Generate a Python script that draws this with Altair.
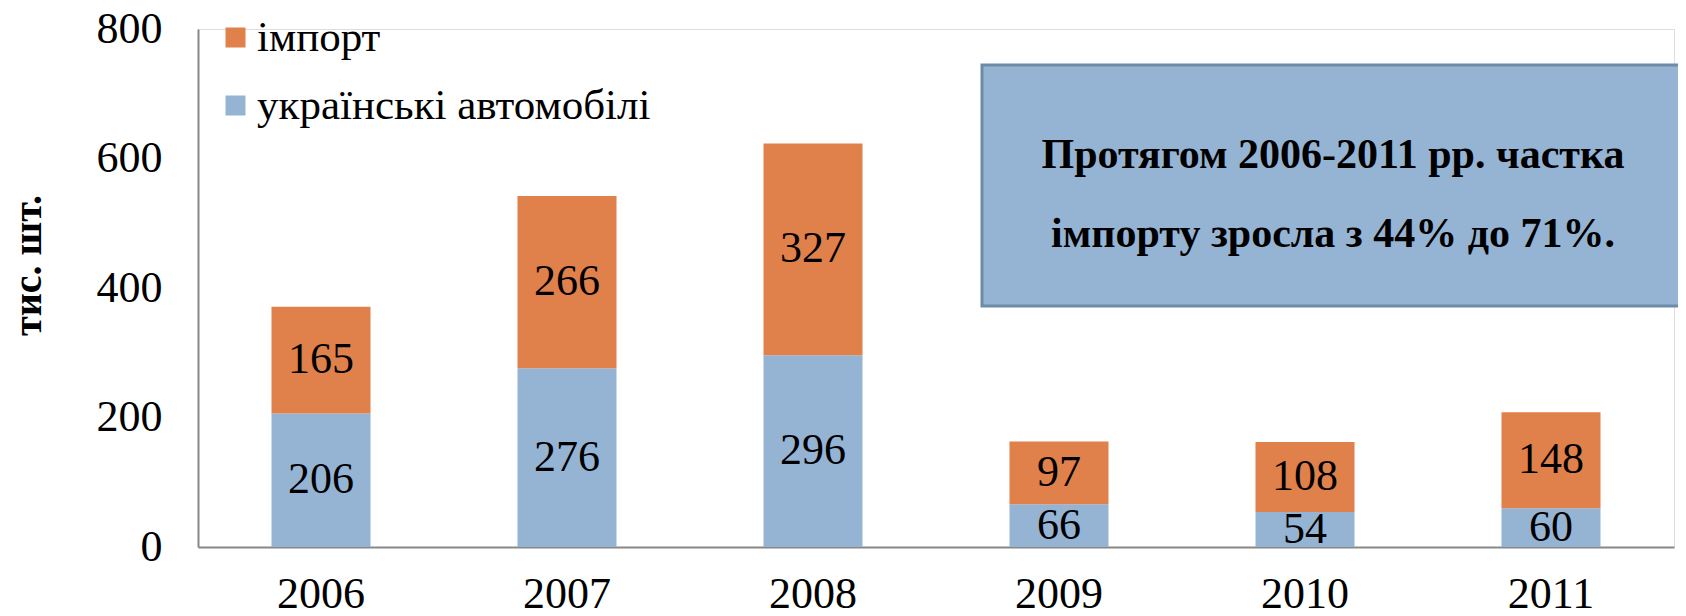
import altair as alt
import pandas as pd

years = ["2006", "2007", "2008", "2009", "2010", "2011"]
ukr = [206, 276, 296, 66, 54, 60]
imp = [165, 266, 327, 97, 108, 148]
series = ["імпорт", "українські автомобілі"]
colors = ["#E0804A", "#95B4D3"]
note_lines = ["Протягом 2006-2011 рр. частка", "імпорту зросла з 44% до 71%."]

rows = []
for y, u, i in zip(years, ukr, imp):
    rows.append({"year": y, "series": series[1], "value": u, "ord": 0})
    rows.append({"year": y, "series": series[0], "value": i, "ord": 1})
df = pd.DataFrame(rows)

FONT = "Liberation Serif"
W, H = 1476, 518

base = alt.Chart(df)

bars = base.mark_bar(size=99).encode(
    x=alt.X("year:N", sort=years,
            scale=alt.Scale(paddingInner=0.6, paddingOuter=0.3),
            axis=alt.Axis(title=None, labelAngle=0, labelFontSize=44, labelFont=FONT,
                          labelColor="black", ticks=False, labelPadding=60,
                          labelBaseline="alphabetic",
                          domainColor="#878787", domainWidth=2)),
    y=alt.Y("value:Q", stack="zero",
            scale=alt.Scale(domain=[0, 800], nice=False),
            axis=alt.Axis(values=[0, 200, 400, 600, 800], grid=False, ticks=False,
                          labelFontSize=44, labelFont=FONT, labelColor="black",
                          labelPadding=36, domainColor="#878787", domainWidth=2,
                          title="тис. шт.", titleFont=FONT, titleFontSize=40,
                          titleFontWeight="bold", titleColor="black",
                          titleX=-170, titleY=236, titleAlign="center",
                          titleBaseline="middle", titleAngle=270)),
    color=alt.Color("series:N",
                    scale=alt.Scale(domain=series, range=colors),
                    legend=alt.Legend(title=None, orient="none", legendX=16, legendY=-13,
                                      symbolType="square", symbolSize=400,
                                      symbolStrokeWidth=0, labelFontSize=43,
                                      labelFont=FONT, labelColor="black",
                                      rowPadding=24, labelLimit=700, padding=0,
                                      labelOffset=0)),
    order=alt.Order("ord:Q"),
)

labels = base.transform_stack(
    stack="value", groupby=["year"], as_=["v0", "v1"],
    sort=[alt.SortField("ord", order="ascending")]
).transform_calculate(mid="(datum.v0 + datum.v1) / 2").mark_text(
    font=FONT, fontSize=44, color="black", baseline="middle"
).encode(
    x=alt.X("year:N", sort=years),
    y=alt.Y("mid:Q"),
    text=alt.Text("value:Q"),
)

box = alt.Chart(pd.DataFrame({"k": [0]})).mark_rect(
    fill="#95B4D3", stroke="#6E8BA6", strokeWidth=3, clip=False
).encode(
    x=alt.value(784), x2=alt.value(1485), y=alt.value(36), y2=alt.value(277)
)

note_df = pd.DataFrame({"t": note_lines, "py": [126, 205]})
note = alt.Chart(note_df).mark_text(
    font=FONT, fontSize=42, fontWeight="bold", color="black",
    align="center", baseline="middle"
).encode(
    x=alt.value(1135), y=alt.Y("py:Q", scale=None), text="t:N"
)

chart = alt.layer(bars, labels, box, note).properties(
    width=W, height=H,
    autosize=alt.AutoSizeParams(type="none"),
    padding={"left": 190, "top": 21, "right": 4, "bottom": 61},
).configure_view(stroke=None).configure(background="white")

chart.save("out.html", embed_options={"renderer": "svg", "actions": False})
